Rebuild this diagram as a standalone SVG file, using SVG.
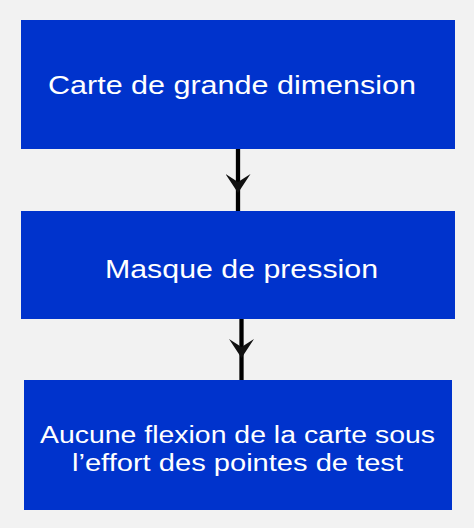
<svg xmlns="http://www.w3.org/2000/svg" width="474" height="528" viewBox="0 0 474 528">
<defs>
<style>
.box{fill:#0033cc;}
.lbl{fill:#ffffff;font-family:"Liberation Sans",Arial,sans-serif;}
.conn{stroke:#000000;stroke-width:4.3;fill:none;marker-mid:url(#arr);}
</style>
<marker id="arr" viewBox="0 0 19 25" markerUnits="userSpaceOnUse" markerWidth="19" markerHeight="25" refX="19" refY="12.5" orient="auto">
<path d="M0,0 L19,12.5 L0,25 L8,12.5 Z" fill="#111111"/>
</marker>
</defs>
<rect x="0" y="0" width="474" height="528" fill="#f2f2f2"/>
<g id="connectors">
<path class="conn" d="M238,149 L238,193 L238,211"/>
<path class="conn" d="M241.5,319 L241.5,358 L241.5,380"/>
</g>
<g id="node1">
<rect class="box" x="21" y="20" width="434" height="129"/>
<text class="lbl" x="48" y="94" font-size="26.5" textLength="368" lengthAdjust="spacingAndGlyphs">Carte de grande dimension</text>
</g>
<g id="node2">
<rect class="box" x="21" y="211" width="434" height="108"/>
<text class="lbl" x="105" y="278" font-size="25" textLength="273" lengthAdjust="spacingAndGlyphs">Masque de pression</text>
</g>
<g id="node3">
<rect class="box" x="24" y="380" width="428" height="130"/>
<text class="lbl" x="40" y="443.3" font-size="23.5" textLength="395" lengthAdjust="spacingAndGlyphs">Aucune flexion de la carte sous</text>
<text class="lbl" x="72" y="470.5" font-size="23.5" textLength="331" lengthAdjust="spacingAndGlyphs">l’effort des pointes de test</text>
</g>
</svg>
